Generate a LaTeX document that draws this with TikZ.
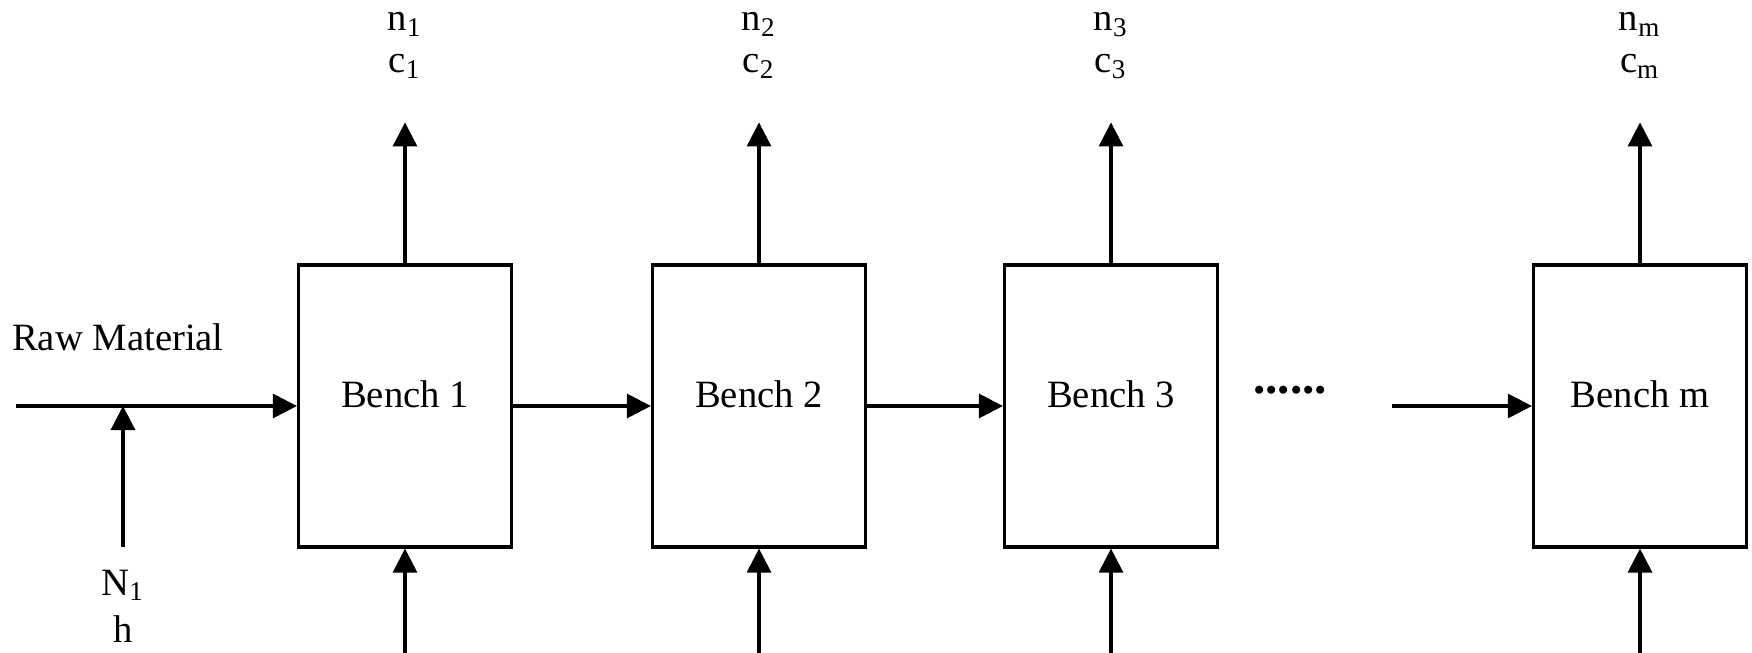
\documentclass[tikz,border=0pt]{standalone}
\usepackage{fontspec}
\setmainfont{Liberation Serif}
\usepackage{tikz}
\usetikzlibrary{arrows.meta}
\usetikzlibrary{positioning}

\begin{document}
\begin{tikzpicture}[
  bench/.style={draw,line width=0.9pt,minimum width=2.13cm,minimum height=2.82cm,
    inner sep=0pt,text depth=0.24cm},
  flow/.style={line width=0.9pt,-{Triangle[length=2.4mm,width=2.4mm]}},
  font=\fontsize{11}{13}\selectfont]
\useasboundingbox (0,0) rectangle (17.52,6.52);

% benches
\node[bench] (B1) at (4.05,2.46) {Bench 1};
\node[bench] (B2) at (7.59,2.46) {Bench 2};
\node[bench] (B3) at (11.11,2.46) {Bench 3};
\node[bench] (Bm) at (16.40,2.46) {Bench m};

% outputs on top, inputs from below
\foreach \b/\i in {B1/1,B2/2,B3/3,Bm/m}{
  \coordinate (o\i) at ([yshift=1.41cm]\b.north);
  \draw[flow] (\b.north) -- (o\i);
  \node[anchor=base] (n\i) at ([yshift=0.92cm]o\i) {n\textsubscript{\i}};
  \node[anchor=base] (c\i) at ([yshift=0.50cm]o\i) {c\textsubscript{\i}};
  \coordinate (s\i) at ([yshift=-1.05cm]\b.south);
  \draw[flow] (s\i) -- (\b.south);
}

% raw material feed
\coordinate (in) at (0.16,2.46);
\draw[flow] (in) -- (B1.west);
\node[anchor=base west,inner sep=0pt] (raw) at (0.115,3.02) {Raw Material};
\coordinate (h0) at (1.23,1.05);
\draw[flow] (h0) -- (h0 |- in);
\node[anchor=base] (N1) at (1.23,0.57) {N\textsubscript{1}};
\node[anchor=base] (hl) at (1.23,0.10) {h};

% chain of benches
\draw[flow] (B1.east) -- (B2.west);
\draw[flow] (B2.east) -- (B3.west);
\node (dots) at (12.9,2.62) {\fontsize{14}{14}\selectfont\bfseries ......};
\coordinate (gap) at (13.92,2.46);
\draw[flow] (gap) -- (Bm.west);
\end{tikzpicture}
\end{document}
